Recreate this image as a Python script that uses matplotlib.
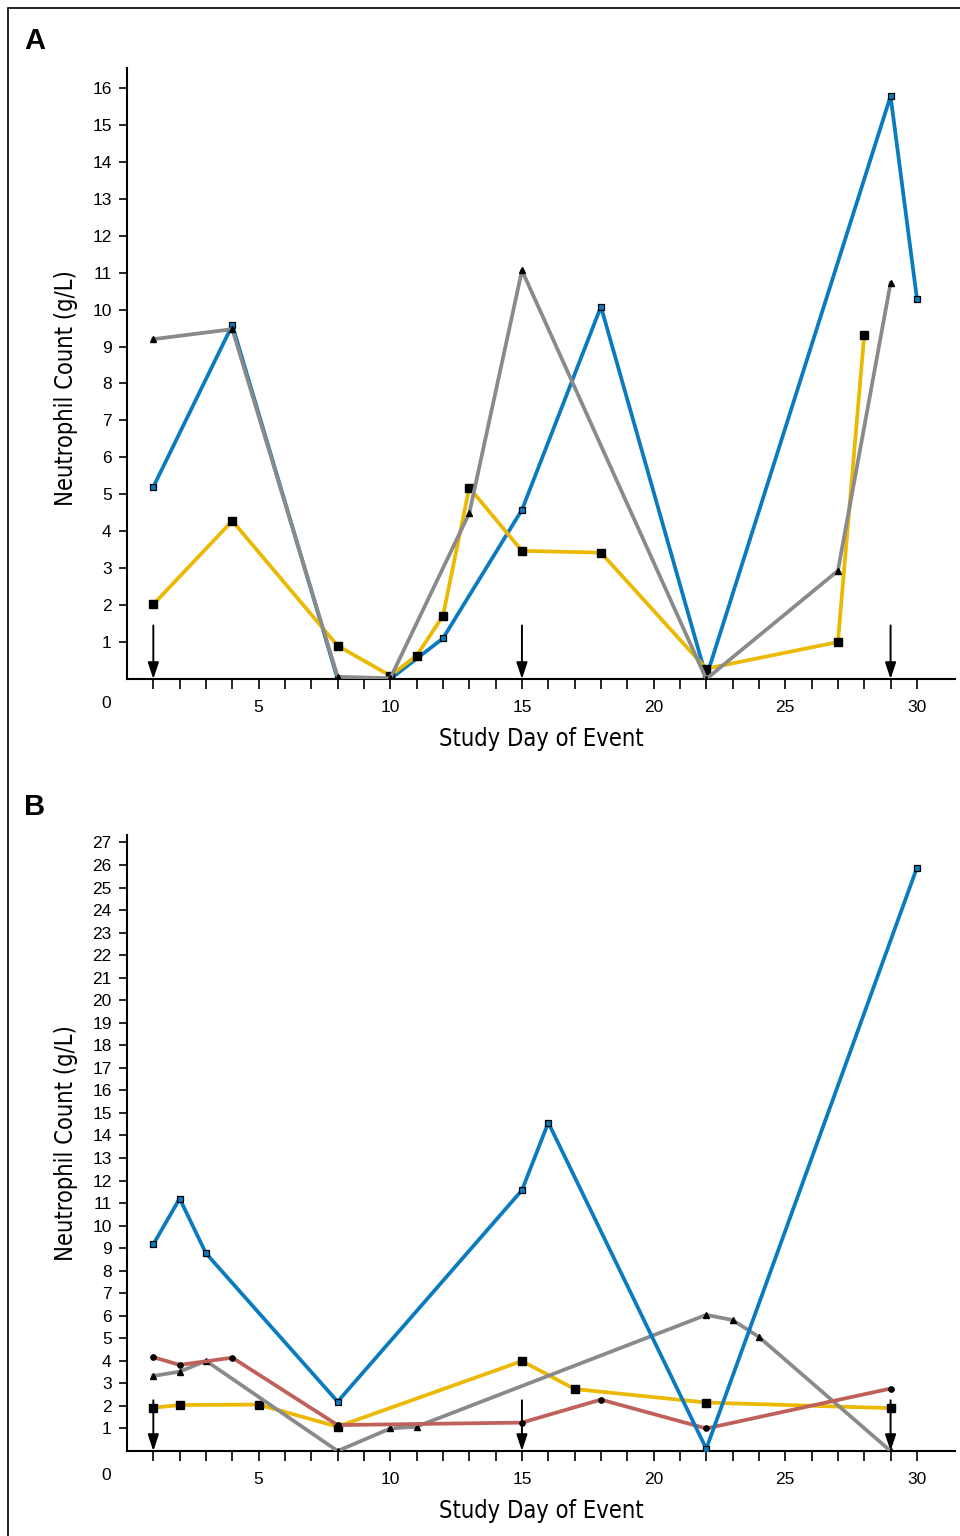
import matplotlib
matplotlib.use("Agg")
import matplotlib.pyplot as plt
from matplotlib.patches import Rectangle

# ---------------- data ----------------
# Panel A
a_blue_x = [1, 4, 8, 10, 12, 15, 18, 22, 29, 30]
a_blue_y = [5.2, 9.58, 0.0, 0.0, 1.1, 4.58, 10.08, 0.05, 15.78, 10.3]
a_yellow_x = [1, 4, 8, 10, 11, 12, 13, 15, 18, 22, 27, 28]
a_yellow_y = [2.02, 4.28, 0.9, 0.09, 0.63, 1.71, 5.18, 3.47, 3.42, 0.28, 1.0, 9.32]
a_gray_x = [1, 4, 8, 10, 13, 15, 22, 27, 29]
a_gray_y = [9.2, 9.47, 0.06, 0.02, 4.49, 11.06, 0.0, 2.93, 10.72]
a_arrow_days = [1, 15, 29]

# Panel B
b_blue_x = [1, 2, 3, 8, 15, 16, 22, 30]
b_blue_y = [9.17, 11.2, 8.77, 2.19, 11.57, 14.57, 0.1, 25.87]
b_yellow_x = [1, 2, 5, 8, 15, 17, 22, 29]
b_yellow_y = [1.92, 2.04, 2.06, 1.08, 3.99, 2.75, 2.15, 1.9]
b_gray_x = [1, 2, 3, 8, 10, 11, 22, 23, 24, 29]
b_gray_y = [3.33, 3.52, 4.0, 0.0, 1.0, 1.08, 6.04, 5.81, 5.06, 0.0]
b_red_x = [1, 2, 4, 8, 15, 18, 22, 29]
b_red_y = [4.16, 3.82, 4.14, 1.15, 1.26, 2.28, 1.0, 2.77]
b_arrow_days = [1, 15, 29]

x_major = [5, 10, 15, 20, 25, 30]
x_minor = list(range(1, 31))
a_yticks = list(range(1, 17))
b_yticks = list(range(1, 28))

BLUE = "#0a7bbf"
YELLOW = "#ebb902"
GRAY = "#8a8a8a"
RED = "#c0605a"

W, H = 960, 1536
fig = plt.figure(figsize=(W / 100, H / 100), dpi=100)

plain = ["Liberation Sans", "DejaVu Sans"]
cond = dict(family="DejaVu Sans", fontstretch="condensed", fontsize=17)

# frame around the figure
fig.patches.append(Rectangle((8 / W, -0.1), 1.2, 1.1 - 8 / H, transform=fig.transFigure,
                             fill=False, edgecolor="black", lw=1.2))

left = 127 / W
width = (955 - 127) / W


def setup(ax, yticks, ytop, ylab_y):
    ax.set_xlim(0, (955 - 127) / 26.33)
    ax.set_ylim(0, ytop)
    for s in ["top", "right"]:
        ax.spines[s].set_visible(False)
    for s in ["left", "bottom"]:
        ax.spines[s].set_linewidth(1.5)
    ax.set_xticks(x_major)
    ax.set_xticks(x_minor, minor=True)
    ax.set_xticklabels([str(v) for v in x_major], family=plain, fontsize=12.5)
    ax.set_yticks(yticks)
    ax.set_yticklabels([str(v) for v in yticks], family=plain, fontsize=12.5)
    ax.tick_params(axis="x", which="both", direction="out", length=7, width=1.2, pad=8)
    ax.tick_params(axis="y", which="major", direction="out", length=6, width=1.2, pad=5)
    ax.set_xlabel("Study Day of Event", labelpad=9, **cond)
    ax.set_ylabel("Neutrophil Count (g/L)", **cond)
    ax.yaxis.set_label_coords(-49 / 828, ylab_y)
    ax.annotate("0", xy=(0, 0), xycoords="data", xytext=(-15, -18), textcoords="offset points",
                ha="center", va="center", fontsize=12.5, family=plain, annotation_clip=False)


def arrows(ax, days, top):
    for d in days:
        ax.annotate("", xy=(d, 0), xytext=(d, top),
                    arrowprops=dict(arrowstyle="-|>,head_length=0.9,head_width=0.3", color="black",
                                    lw=1.4, mutation_scale=11, shrinkA=0, shrinkB=0),
                    annotation_clip=False)


lw = 2.7
# ---------------- Panel A ----------------
yA0 = 679
axA = fig.add_axes([left, (H - yA0) / H, width, (yA0 - 68) / H])
setup(axA, a_yticks, (yA0 - 68) / 36.94, (679 - 388) / (679 - 68))
axA.plot(a_blue_x, a_blue_y, color=BLUE, lw=lw, marker="s", ms=3.8, mfc=BLUE, mec="black", mew=0.9, zorder=3)
axA.plot(a_yellow_x, a_yellow_y, color=YELLOW, lw=lw, marker="s", ms=5.2, mfc="black", mec="black", zorder=4)
axA.plot(a_gray_x, a_gray_y, color=GRAY, lw=lw, marker="^", ms=4.8, mfc="black", mec="black", zorder=5)
arrows(axA, a_arrow_days, 1.45)
fig.text(24 / W, 1 - 41 / H, "A", fontsize=21, fontweight="bold", family=plain, va="center", ha="left")

# ---------------- Panel B ----------------
yB0 = 1451
axB = fig.add_axes([left, (H - yB0) / H, width, (yB0 - 835) / H])
setup(axB, b_yticks, (yB0 - 835) / 22.54, 0.5)
axB.plot(b_yellow_x, b_yellow_y, color=YELLOW, lw=lw, marker="s", ms=5.2, mfc="black", mec="black", zorder=3)
axB.plot(b_gray_x, b_gray_y, color=GRAY, lw=lw, marker="^", ms=4.8, mfc="black", mec="black", zorder=4)
axB.plot(b_red_x, b_red_y, color=RED, lw=lw, marker="o", ms=3.8, mfc="black", mec="black", zorder=5)
axB.plot(b_blue_x, b_blue_y, color=BLUE, lw=lw, marker="s", ms=3.8, mfc=BLUE, mec="black", mew=0.9, zorder=6)
arrows(axB, b_arrow_days, 2.25)
fig.text(24 / W, 1 - 807 / H, "B", fontsize=21, fontweight="bold", family=plain, va="center", ha="left")

fig.savefig("out.png", dpi=100)
